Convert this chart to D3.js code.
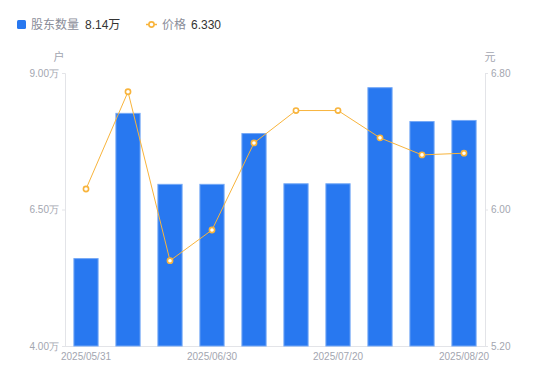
<!DOCTYPE html>
<html><head><meta charset="utf-8">
<script src="https://cdn.jsdelivr.net/npm/d3@7"></script>
<style>body{margin:0;background:#fff}svg{display:block;font-family:"Liberation Sans",Arial,"Noto Sans CJK SC",sans-serif}</style>
</head><body>
<svg id="c" width="550" height="381"></svg>
<script>
const categories = ["2025/05/31","2025/06/10","2025/06/20","2025/06/30","2025/07/10","2025/07/15","2025/07/20","2025/07/31","2025/08/10","2025/08/20"];
const holders = [5.61, 8.27, 6.97, 6.97, 7.90, 6.98, 6.98, 8.74, 8.12, 8.14];
const prices = [6.12, 6.69, 5.70, 5.88, 6.39, 6.58, 6.58, 6.42, 6.32, 6.33];
const leftTicks = [4.00, 6.50, 9.00];
const rightTicks = [5.20, 6.00, 6.80];
const shownLabels = ["2025/05/31","2025/06/30","2025/07/20","2025/08/20"];

const svg = d3.select("#c");
const L = 65, R = 485, T = 73, B = 346;
const axisColor = "#e3e4e8", tickText = "#a3a6b0";
const barColor = "#2878f0", lineColor = "#f8b43c";

const x = d3.scaleBand().domain(categories).range([L, R]).paddingInner(0.4).paddingOuter(0.2);
const yL = d3.scaleLinear().domain([4, 9]).range([B, T]);
const yR = d3.scaleLinear().domain([5.2, 6.8]).range([B, T]);

// axes
const gl = svg.append("g").attr("transform", `translate(${L},0)`)
  .call(d3.axisLeft(yL).tickValues(leftTicks).tickSize(3).tickPadding(3).tickFormat(d => d3.format(".2f")(d) + "万"));
const gr = svg.append("g").attr("transform", `translate(${R},0)`)
  .call(d3.axisRight(yR).tickValues(rightTicks).tickSize(3).tickPadding(3).tickFormat(d3.format(".2f")));
const gb = svg.append("g").attr("transform", `translate(0,${B})`)
  .call(d3.axisBottom(x).tickValues(shownLabels).tickSize(0).tickPadding(7));
[gl, gr, gb].forEach(g => {
  g.selectAll(".domain").attr("stroke", axisColor);
  g.selectAll(".tick line").attr("stroke", axisColor);
  g.selectAll("text").attr("fill", tickText).attr("font-size", 10);
});
gb.select(".domain").attr("d", `M${L},0.5H${R}`);

// unit labels
svg.append("text").attr("x", 59).attr("y", 61).attr("text-anchor", "middle").attr("font-size", 11).attr("fill", tickText).text("户");
svg.append("text").attr("x", 490).attr("y", 61).attr("text-anchor", "middle").attr("font-size", 11).attr("fill", tickText).text("元");

// bars
svg.append("g").selectAll("rect").data(holders).join("rect")
  .attr("x", (d, i) => x(categories[i]) + 0.5)
  .attr("width", x.bandwidth() - 1)
  .attr("y", d => yL(d) + 0.5)
  .attr("height", d => B - yL(d) - 0.5)
  .attr("fill", barColor).attr("stroke", "#74a8f6").attr("stroke-width", 1);

// line
const cx = i => x(categories[i]) + x.bandwidth() / 2;
svg.append("path").datum(prices)
  .attr("d", d3.line().x((d, i) => cx(i)).y(d => yR(d)))
  .attr("fill", "none").attr("stroke", lineColor).attr("stroke-width", 1);
svg.append("g").selectAll("circle").data(prices).join("circle")
  .attr("cx", (d, i) => cx(i)).attr("cy", d => yR(d)).attr("r", 2.6)
  .attr("fill", "#fff").attr("stroke", lineColor).attr("stroke-width", 1.6);

// legend
const lg = svg.append("g");
lg.append("rect").attr("x", 17).attr("y", 20).attr("width", 9).attr("height", 9).attr("rx", 1.5).attr("fill", barColor);
lg.append("text").attr("x", 31).attr("y", 29).attr("font-size", 12).attr("fill", "#8a8d99").text("股东数量");
lg.append("text").attr("x", 85).attr("y", 29).attr("font-size", 12).attr("fill", "#333").text(d3.format(".2f")(holders[holders.length-1]) + "万");
lg.append("line").attr("x1", 146).attr("x2", 157).attr("y1", 24.5).attr("y2", 24.5).attr("stroke", lineColor).attr("stroke-width", 1.5);
lg.append("circle").attr("cx", 151.5).attr("cy", 24.5).attr("r", 2.6).attr("fill", "#fff").attr("stroke", lineColor).attr("stroke-width", 1.6);
lg.append("text").attr("x", 162).attr("y", 29).attr("font-size", 12).attr("fill", "#8a8d99").text("价格");
lg.append("text").attr("x", 191).attr("y", 29).attr("font-size", 12).attr("fill", "#333").text(d3.format(".3f")(prices[prices.length-1]));
</script>
</body></html>
